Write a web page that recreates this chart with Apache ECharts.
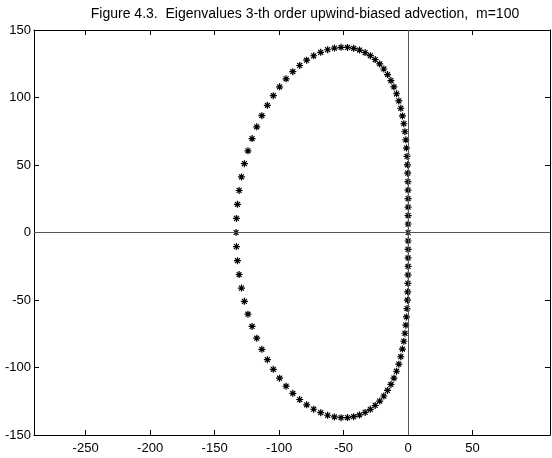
<!DOCTYPE html>
<html>
<head>
<meta charset="utf-8">
<script src="https://cdn.jsdelivr.net/npm/echarts@6/dist/echarts.min.js"></script>
<style>html,body{margin:0;padding:0;background:#fff}#c{width:552px;height:458px}</style>
</head>
<body>
<div id="c"></div>
<script>
// Eigenvalues: upper half (imag >= 0) and lower half (imag < 0)
var upperRe = [0, 0, 0, -0.01, -0.03, -0.08, -0.16, -0.30, -0.51, -0.81, -1.22, -1.76, -2.45, -3.32, -4.38, -5.66, -7.18, -8.95, -10.99, -13.31, -15.92, -18.82, -22.01, -25.50, -29.28, -33.33, -37.65, -42.21, -47.00, -51.97, -57.12, -62.39, -67.76, -73.19, -78.63, -84.04, -89.37, -94.59, -99.64, -104.49, -109.09, -113.39, -117.35, -120.95, -124.14, -126.89, -129.18, -130.98, -132.28, -133.07, -133.33];
var upperIm = [0, 6.28, 12.57, 18.85, 25.13, 31.41, 37.67, 43.93, 50.16, 56.36, 62.52, 68.62, 74.64, 80.56, 86.36, 92.02, 97.50, 102.77, 107.80, 112.56, 117.01, 121.12, 124.84, 128.14, 130.98, 133.33, 135.16, 136.43, 137.11, 137.17, 136.60, 135.38, 133.49, 130.91, 127.66, 123.72, 119.11, 113.83, 107.91, 101.36, 94.22, 86.52, 78.31, 69.61, 60.49, 51.00, 41.19, 31.12, 20.86, 10.46, 0];
var lowerRe = [-133.07, -132.28, -130.98, -129.18, -126.89, -124.14, -120.95, -117.35, -113.39, -109.09, -104.49, -99.64, -94.59, -89.37, -84.04, -78.63, -73.19, -67.76, -62.39, -57.12, -51.97, -47.00, -42.21, -37.65, -33.33, -29.28, -25.50, -22.01, -18.82, -15.92, -13.31, -10.99, -8.95, -7.18, -5.66, -4.38, -3.32, -2.45, -1.76, -1.22, -0.81, -0.51, -0.30, -0.16, -0.08, -0.03, -0.01, 0, 0];
var lowerIm = [-10.46, -20.86, -31.12, -41.19, -51.00, -60.49, -69.61, -78.31, -86.52, -94.22, -101.36, -107.91, -113.83, -119.11, -123.72, -127.66, -130.91, -133.49, -135.38, -136.60, -137.17, -137.11, -136.43, -135.16, -133.33, -130.98, -128.14, -124.84, -121.12, -117.01, -112.56, -107.80, -102.77, -97.50, -92.02, -86.36, -80.56, -74.64, -68.62, -62.52, -56.36, -50.16, -43.93, -37.67, -31.41, -25.13, -18.85, -12.57, -6.28];
var xTicks = [-250, -200, -150, -100, -50, 0, 50];
var yTicks = [-150, -100, -50, 0, 50, 100, 150];
var titleText = 'Figure 4.3.  Eigenvalues 3-th order upwind-biased advection,  m=100';

var points = [];
upperRe.forEach(function (v, i) { points.push([v, upperIm[i]]); });
lowerRe.forEach(function (v, i) { points.push([v, lowerIm[i]]); });

var font = 'Liberation Sans, Arial, Helvetica, sans-serif';
var chart = echarts.init(document.getElementById('c'), null, {renderer: 'canvas'});
var axisLine = {show: true, onZero: false, lineStyle: {color: '#000', width: 1}};
chart.setOption({
  animation: false,
  backgroundColor: '#fff',
  title: {
    text: titleText, left: 300, top: 2, textAlign: 'center',
    textStyle: {fontFamily: font, fontSize: 14, fontWeight: 'normal', color: '#000'}
  },
  grid: {left: 34, right: 2, top: 30, bottom: 23, containLabel: false},
  xAxis: [{
    type: 'value', min: -290, max: 110, position: 'bottom',
    axisLine: axisLine,
    axisTick: {show: true, inside: true, length: 5, customValues: xTicks, lineStyle: {color: '#000'}},
    axisLabel: {customValues: xTicks, fontFamily: font, fontSize: 13, color: '#000', margin: 7},
    splitLine: {show: false}
  }, {
    type: 'value', min: -290, max: 110, position: 'top',
    axisLine: axisLine,
    axisTick: {show: true, inside: true, length: 5, customValues: xTicks, lineStyle: {color: '#000'}},
    axisLabel: {show: false},
    splitLine: {show: false}
  }],
  yAxis: [{
    type: 'value', min: -150, max: 150, position: 'left',
    axisLine: axisLine,
    axisTick: {show: true, inside: true, length: 5, customValues: yTicks, lineStyle: {color: '#000'}},
    axisLabel: {customValues: yTicks, fontFamily: font, fontSize: 13, color: '#000', margin: 3},
    splitLine: {show: false}
  }, {
    type: 'value', min: -150, max: 150, position: 'right',
    axisLine: axisLine,
    axisTick: {show: true, inside: true, length: 5, customValues: yTicks, lineStyle: {color: '#000'}},
    axisLabel: {show: false},
    splitLine: {show: false}
  }],
  series: [{
    type: 'line', data: [], z: 1, silent: true,
    markLine: {
      silent: true, symbol: ['none', 'none'], label: {show: false},
      lineStyle: {color: '#555', width: 1, type: 'solid'},
      data: [{xAxis: 0}, {yAxis: 0}]
    }
  }, {
    type: 'scatter', z: 3, data: points,
    symbol: 'path://M0,5L10,5M5,0L5,10M1.5,1.5L8.5,8.5M1.5,8.5L8.5,1.5',
    symbolSize: 7,
    itemStyle: {color: 'none', borderColor: '#000', borderWidth: 1.2, opacity: 1}
  }]
});
</script>
</body>
</html>
